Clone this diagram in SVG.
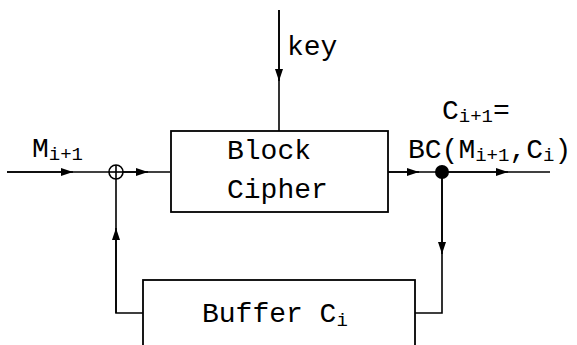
<svg xmlns="http://www.w3.org/2000/svg" width="577" height="345" viewBox="0 0 577 345">
<style>
.t{font-family:"Liberation Mono","Courier New",monospace;font-size:28px;fill:#000}
.s{font-size:19px}
.ln{stroke:#000;stroke-width:1.6;fill:none}
.box{stroke:#000;stroke-width:1.8;fill:#fff}
</style>
<defs>
<marker id="ah" viewBox="0 0 12 8" refX="12" refY="4" markerWidth="12" markerHeight="8" markerUnits="userSpaceOnUse" orient="auto">
<path d="M0,0 L12,4 L0,8 Z" fill="#000"/>
</marker>
</defs>
<rect width="577" height="345" fill="#fff"/>
<g id="connectors">
<line class="ln" x1="279" y1="10" x2="279" y2="131"/>
<line class="ln" x1="279" y1="10" x2="279" y2="81" marker-end="url(#ah)"/>
<line class="ln" x1="7" y1="172" x2="109" y2="172"/>
<line class="ln" x1="7" y1="172" x2="73" y2="172" marker-end="url(#ah)"/>
<line class="ln" x1="123" y1="172" x2="170" y2="172"/>
<line class="ln" x1="123" y1="172" x2="148" y2="172" marker-end="url(#ah)"/>
<line class="ln" x1="388" y1="172" x2="550" y2="172"/>
<line class="ln" x1="388" y1="172" x2="419" y2="172" marker-end="url(#ah)"/>
<line class="ln" x1="442" y1="172" x2="508" y2="172" marker-end="url(#ah)"/>
<polyline class="ln" points="442,172 442,313 415,313"/>
<line class="ln" x1="442" y1="172" x2="442" y2="254" marker-end="url(#ah)"/>
<polyline class="ln" points="143,313 116,313 116,179"/>
<line class="ln" x1="116" y1="313" x2="116" y2="228" marker-end="url(#ah)"/>
<circle cx="442" cy="172" r="7" fill="#000"/>
</g>
<g id="xor">
<circle class="ln" cx="116" cy="172" r="7" fill="#fff"/>
<line class="ln" x1="109" y1="172" x2="123" y2="172"/>
<line class="ln" x1="116" y1="165" x2="116" y2="179"/>
</g>
<g id="block-cipher">
<rect class="box" x="171" y="131" width="217" height="81"/>
<text class="t" x="227" y="159">Block</text>
<text class="t" x="227" y="198">Cipher</text>
</g>
<g id="buffer">
<rect class="box" x="143" y="280" width="272" height="80"/>
<text class="t" x="202" y="322">Buffer C<tspan class="s" dy="4">i</tspan></text>
</g>
<g id="labels">
<text class="t" x="287" y="55">key</text>
<text class="t" x="32" y="157">M<tspan class="s" dy="3">i+1</tspan></text>
<text class="t" x="442" y="119">C<tspan class="s" dy="3">i+1</tspan><tspan dy="-3">=</tspan></text>
<text class="t" x="408" y="158">BC(M<tspan class="s" dy="3">i+1</tspan><tspan dy="-3">,C</tspan><tspan class="s" dy="3">i</tspan><tspan dy="-3">)</tspan></text>
</g>
</svg>
